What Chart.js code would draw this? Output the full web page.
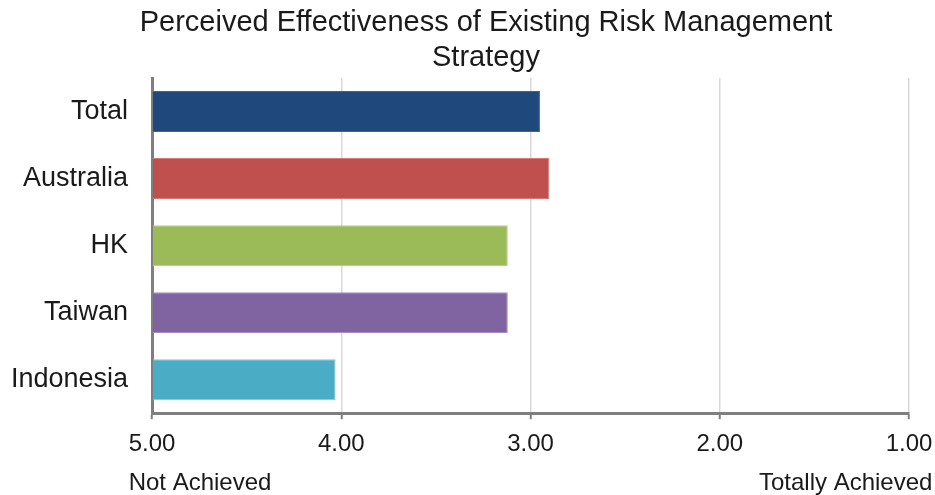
<!DOCTYPE html>
<html>
<head>
<meta charset="utf-8">
<script src="https://cdn.jsdelivr.net/npm/chart.js@4.4.1/dist/chart.umd.min.js"></script>
<style>
  html, body { margin: 0; padding: 0; background: #fff; }
  #wrap { width: 935px; height: 495px; position: relative; }
</style>
</head>
<body>
<div id="wrap"><canvas id="grafico"></canvas></div>
<script>
// dados
const categorias = ['Total', 'Australia', 'HK', 'Taiwan', 'Indonesia'];
const valores = [2.95, 2.90, 3.12, 3.12, 4.03];
const cores = ['#1F497D', '#C0504D', '#9BBB59', '#8064A2', '#4BACC6'];
const bordas = ['#3d6397', '#d27a77', '#b5d08a', '#a58cc4', '#7ccbe0'];
const tituloLinhas = ['Perceived Effectiveness of Existing Risk Management', 'Strategy'];
const rotuloEsq = 'Not Achieved';
const rotuloDir = 'Totally Achieved';

const FONTE = '"Liberation Sans", Arial, Helvetica, sans-serif';

// título e rótulos das pontas do eixo desenhados à mão
const textosExtras = {
    id: 'textosExtras',
    afterDraw(chart) {
        const ctx = chart.ctx;
        const x = chart.scales.x;
        ctx.save();
        ctx.fillStyle = '#1a1a1a';
        ctx.textBaseline = 'middle';

        ctx.font = '29px ' + FONTE;
        ctx.textAlign = 'center';
        ctx.fillText(tituloLinhas[0], 486, 23);
        ctx.fillText(tituloLinhas[1], 486, 58);

        ctx.font = '24px ' + FONTE;
        const w5 = ctx.measureText('5.00').width;
        const w1 = ctx.measureText('1.00').width;
        ctx.textAlign = 'left';
        ctx.fillText(rotuloEsq, x.getPixelForValue(5) - w5 / 2, 483);
        ctx.textAlign = 'right';
        ctx.fillText(rotuloDir, x.getPixelForValue(1) + w1 / 2, 483);
        ctx.restore();
    }
};

const ctx = document.getElementById('grafico').getContext('2d');
new Chart(ctx, {
    type: 'bar',
    data: {
        labels: categorias,
        datasets: [{
            data: valores,
            base: 5,
            backgroundColor: cores,
            borderColor: bordas,
            borderWidth: 1,
            barPercentage: 0.61,
            categoryPercentage: 1
        }]
    },
    options: {
        indexAxis: 'y',
        responsive: true, maintainAspectRatio: false,
        animation: false,
        layout: { padding: { top: 78, left: 8, right: 26, bottom: 25 } },
        plugins: {
            legend: { display: false },
            title: { display: false },
            tooltip: { enabled: false }
        },
        scales: {
            x: {
                min: 1, max: 5, reverse: true,
                afterFit: (escala) => { escala.paddingLeft = 0; escala.paddingRight = 0; },
                ticks: {
                    stepSize: 1,
                    color: '#1a1a1a',
                    font: { family: FONTE, size: 24 },
                    padding: 11,
                    maxRotation: 0,
                    callback: (v) => Number(v).toFixed(2)
                },
                grid: { color: '#d9d9d9', lineWidth: 1.5, tickColor: '#7f7f7f', tickLength: 6, tickWidth: 2 },
                border: { color: '#7f7f7f', width: 3 }
            },
            y: {
                afterFit: (escala) => { escala.width = 144; },
                ticks: {
                    color: '#1a1a1a',
                    font: { family: FONTE, size: 27 },
                    padding: 24
                },
                grid: { display: false, drawTicks: false },
                border: { color: '#7f7f7f', width: 3 }
            }
        }
    },
    plugins: [textosExtras]
});
</script>
</body>
</html>
